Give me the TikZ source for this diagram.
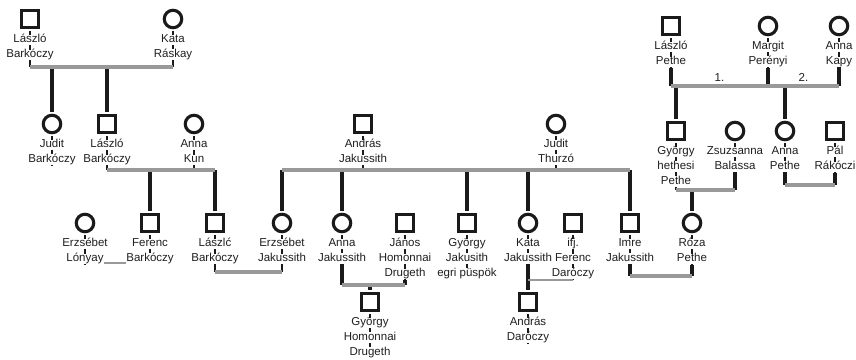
\documentclass[tikz,border=0pt]{standalone}
\usepackage{fontspec}
\setmainfont{Liberation Sans}
\usepackage[]{tikz}
\usetikzlibrary{positioning}
\usetikzlibrary{calc}
\usetikzlibrary{backgrounds}
\definecolor{marrgray}{HTML}{999999}
\definecolor{linedark}{HTML}{1A1A1A}
\setlength{\fboxsep}{0pt}
\newcommand{\nm}[1]{\colorbox{white}{\rule[-2.5pt]{0pt}{10pt}#1}}
\tikzset{male/.style = {draw=linedark, line width=3.1pt, minimum size=17.5pt, inner sep=0, outer sep=3.55pt, fill=white}}
\tikzset{female/.style = {male, circle}}
\tikzset{lbl/.style = {align=center, inner sep=0, text=black!88, font=\fontsize{11.5}{15}\selectfont}}
\tikzset{tk/.style = {draw=linedark, line width=1.2pt}}
\tikzset{desc/.style = {draw=linedark, line width=3.2pt}}
\tikzset{marr/.style = {draw=marrgray, line width=3.4pt}}

\begin{document}
\begin{tikzpicture}[x=1pt, y=-1pt]
    \useasboundingbox (0,0) rectangle (856,359);
    % heights of the marriage lines
    \coordinate (hA) at (0,67);
    \coordinate (hB) at (0,170);
    \coordinate (hR) at (0,86);
    \coordinate (hG) at (0,190);
    \coordinate (hP) at (0,185);
    \coordinate (hE) at (0,263);
    \coordinate (hL) at (0,272);
    \coordinate (hI) at (0,276);
    \coordinate (hK) at (0,280);
    \coordinate (hJ) at (0,285);
    % Barkoczy
    \node [male] (lb1) at (30,19) {};
    \node [female] (kr) at (173,19) {};
    \node [lbl, below=3pt of lb1] (t-lb1) {\nm{László}\\\nm{Barkóczy}};
    \node [lbl, below=3pt of kr] (t-kr) {\nm{Kata}\\\nm{Ráskay}};
    \node [female] (jb) at (52,124) {};
    \node [male] (lb2) at (107,124) {};
    \node [female] (ak) at (194,124) {};
    \node [lbl, below=3pt of jb] (t-jb) {\nm{Judit}\\\nm{Barkóczy}};
    \node [lbl, below=3pt of lb2] (t-lb2) {\nm{László}\\\nm{Barkóczy}};
    \node [lbl, below=3pt of ak] (t-ak) {\nm{Anna}\\\nm{Kun}};
    % Jakussith
    \node [male] (aj) at (363,124) {};
    \node [female] (jt) at (556,124) {};
    \node [lbl, below=3pt of aj] (t-aj) {\nm{András}\\\nm{Jakussith}};
    \node [lbl, below=3pt of jt] (t-jt) {\nm{Judit}\\\nm{Thurzó}};
    % Pethe
    \node [male] (lp) at (671,26) {};
    \node [female] (mp) at (768,26) {};
    \node [female] (ka) at (839,26) {};
    \node [lbl, below=3pt of lp] (t-lp) {\nm{László}\\\nm{Pethe}};
    \node [lbl, below=3pt of mp] (t-mp) {\nm{Margit}\\\nm{Perényi}};
    \node [lbl, below=3pt of ka] (t-ka) {\nm{Anna}\\\nm{Kapy}};
    \node [male] (gyp) at (676,131) {};
    \node [female] (zb) at (735,131) {};
    \node [female] (ap) at (785,131) {};
    \node [male] (pr) at (835,131) {};
    \node [lbl, below=3pt of gyp] (t-gyp) {\nm{György}\\\nm{hethesi}\\\nm{Pethe}};
    \node [lbl, below=3pt of zb] (t-zb) {\nm{Zsuzsanna}\\\nm{Balassa}};
    \node [lbl, below=3pt of ap] (t-ap) {\nm{Anna}\\\nm{Pethe}};
    \node [lbl, below=3pt of pr] (t-pr) {\nm{Pál}\\\nm{Rákóczi}};
    % third row
    \node [female] (el) at (85,223) {};
    \node [male] (fb) at (150,223) {};
    \node [male] (lb3) at (215,223) {};
    \node [female] (ej) at (282,223) {};
    \node [female] (anj) at (342,223) {};
    \node [male] (jh) at (405,223) {};
    \node [male] (gyj) at (467,223) {};
    \node [female] (kj) at (528,223) {};
    \node [male] (fd) at (573,223) {};
    \node [male] (ij) at (630,223) {};
    \node [female] (rp) at (692,223) {};
    \node [lbl, below=3pt of el] (t-el) {\nm{Erzsébet}\\\nm{Lónyay}};
    \node [lbl, below=3pt of fb] (t-fb) {\nm{Ferenc}\\\nm{Barkóczy}};
    \node [lbl, below=3pt of lb3] (t-lb3) {\nm{Lászlć}\\\nm{Barkóczy}};
    \node [lbl, below=3pt of ej] (t-ej) {\nm{Erzsébet}\\\nm{Jakussith}};
    \node [lbl, below=3pt of anj] (t-anj) {\nm{Anna}\\\nm{Jakussith}};
    \node [lbl, below=3pt of jh] (t-jh) {\nm{János}\\\nm{Homonnai}\\\nm{Drugeth}};
    \node [lbl, below=3pt of gyj] (t-gyj) {\nm{György}\\\nm{Jakusith}\\\nm{egri püspök}};
    \node [lbl, below=3pt of kj] (t-kj) {\nm{Kata}\\\nm{Jakussith}};
    \node [lbl, below=3pt of fd] (t-fd) {\nm{ifj.}\\\nm{Ferenc}\\\nm{Daróczy}};
    \node [lbl, below=3pt of ij] (t-ij) {\nm{Imre}\\\nm{Jakussith}};
    \node [lbl, below=3pt of rp] (t-rp) {\nm{Róza}\\\nm{Pethe}};
    % fourth row
    \node [male] (gyh) at (370,302) {};
    \node [male] (ad) at (528,302) {};
    \node [lbl, below=3pt of gyh] (t-gyh) {\nm{György}\\\nm{Homonnai}\\\nm{Drugeth}};
    \node [lbl, below=3pt of ad] (t-ad) {\nm{András}\\\nm{Daróczy}};
    % 1. and 2. marriage
    \coordinate (r1) at (lp |- hR);
    \coordinate (r2) at (mp |- hR);
    \coordinate (r3) at (ka |- hR);
    \node [lbl, above=4pt] (n1) at ($(r1)!0.5!(r2)$) {1.};
    \node [lbl, above=4pt] (n2) at ($(r2)!0.5!(r3)$) {2.};

    \begin{scope}[on background layer]
        \fill [white] (0,0) rectangle (856,359);
        % ticks through the names
        \draw [tk] (lb1.south)--(lb1 |- hA) (kr.south)--(kr |- hA);
        \draw [tk] (lb2.south)--(lb2 |- hB) (ak.south)--(ak |- hB);
        \draw [tk] (aj.south)--(aj |- hB) (jt.south)--(jt |- hB);
        \draw [tk] (gyp.south)--(gyp |- hG) (fd.south)--(fd |- hK);
        \draw [tk] (jb.south)--(t-jb.south) (lp.south)--(t-lp.south);
        \draw [tk] (mp.south)--(t-mp.south) (ka.south)--(t-ka.south);
        \draw [tk] (zb.south)--(t-zb.south) (ap.south)--(t-ap.south);
        \draw [tk] (pr.south)--(t-pr.south) (el.south)--(t-el.south);
        \draw [tk] (fb.south)--(t-fb.south) (lb3.south)--(t-lb3.south);
        \draw [tk] (ej.south)--(t-ej.south) (anj.south)--(t-anj.south);
        \draw [tk] (jh.south)--(t-jh.south) (gyj.south)--(t-gyj.south);
        \draw [tk] (kj.south)--(t-kj.south) (ij.south)--(t-ij.south);
        \draw [tk] (rp.south)--(t-rp.south) (gyh.south)--(t-gyh.south);
        \draw [tk] (ad.south)--(t-ad.south);
        % from the names down to the marriage lines
        \draw [desc] (t-lp.south)--(r1) (t-mp.south)--(r2) (t-ka.south)--(r3);
        \draw [desc] (t-zb.south)--(zb |- hG);
        \draw [desc] (t-ap.south)--(ap |- hP) (t-pr.south)--(pr |- hP);
        \draw [desc, line width=2.2pt] (t-lb3.south)--(lb3 |- hL) (t-ej.south)--(ej |- hL);
        \draw [desc] (t-anj.south)--(anj |- hJ) (t-jh.south)--(jh |- hJ);
        \draw [desc] (t-ij.south)--(ij |- hI) (t-rp.south)--(rp |- hI);
        % children
        \draw [desc] (jb |- hA)--(jb) (lb2 |- hA)--(lb2);
        \draw [desc] (fb |- hB)--(fb) (lb3 |- hB)--(lb3);
        \draw [desc] (ej |- hB)--(ej) (anj |- hB)--(anj) (gyj |- hB)--(gyj);
        \draw [desc] (kj |- hB)--(kj) (ij |- hB)--(ij);
        \draw [desc] (gyp |- hR)--(gyp) (ap |- hR)--(ap);
        \draw [desc] (rp |- hG)--(rp);
        \draw [desc] (gyh |- hJ)--(gyh);
        \draw [desc] (t-kj.south)--(ad);
        % marriages
        \draw [marr] (lb1 |- hA)--(kr |- hA);
        \draw [marr] (lb2 |- hB)--(lb3 |- hB);
        \draw [marr] (ej |- hB)--(ij |- hB);
        \draw [marr] (r1)--(r3);
        \draw [marr] (gyp |- hG)--(zb |- hG);
        \draw [marr] (ap |- hP)--(pr |- hP);
        \draw [marr, line width=2.2pt] (el |- hE)--(fb |- hE);
        \draw [marr] (lb3 |- hL)--(ej |- hL);
        \draw [marr] (anj |- hJ)--(jh |- hJ);
        \draw [marr, line width=2.2pt] (kj |- hK)--(fd |- hK);
        \draw [marr] (ij |- hI)--(rp |- hI);
    \end{scope}
\end{tikzpicture}
\end{document}
